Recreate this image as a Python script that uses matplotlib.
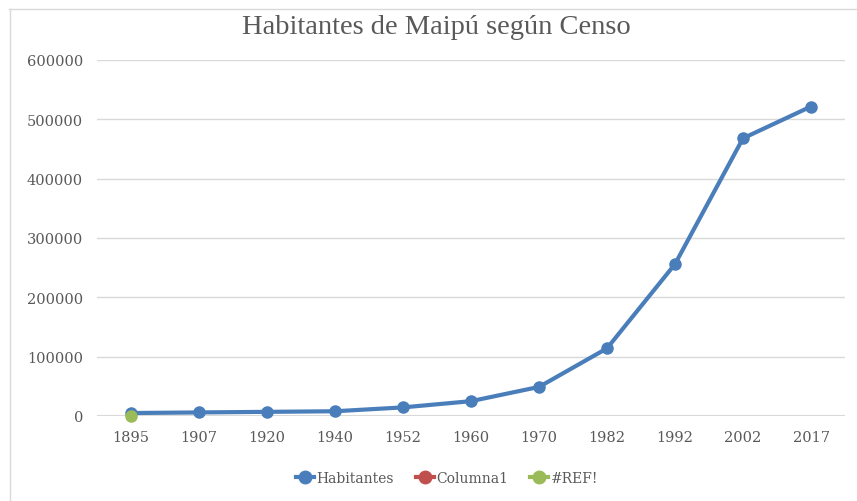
import matplotlib.pyplot as plt
from matplotlib.lines import Line2D

# Census data
years = ["1895", "1907", "1920", "1940", "1952", "1960", "1970", "1982", "1992", "2002", "2017"]
habitantes = [5000, 6000, 7000, 8000, 14500, 25000, 49000, 114000, 256000, 468000, 521600]
ref_values = [0]  # single #REF! point at 1895
y_ticks = [0, 100000, 200000, 300000, 400000, 500000, 600000]

blue = "#4a7ebb"
red = "#c0504d"
green = "#9bbb59"
text_color = "#595959"

plt.rcParams["font.family"] = ["DejaVu Serif"]

fig = plt.figure(figsize=(8.57, 5.02), dpi=100)
ax = fig.add_axes([97 / 857, 1 - 417 / 502, (845 - 97) / 857, (417 - 61) / 502])

x = list(range(len(years)))
ax.plot(x, habitantes, "o-", color=blue, lw=3, markersize=8, zorder=3, clip_on=False)
ax.plot(x[:len(ref_values)], ref_values, "o", color=green, markersize=8, zorder=4, clip_on=False)

ax.set_xlim(-0.5, len(years) - 0.5)
ax.set_ylim(0, 600000)
ax.set_yticks(y_ticks)
ax.set_yticklabels([str(v) for v in y_ticks])
ax.set_xticks(x)
ax.set_xticklabels(years)
ax.grid(axis="y", color="#d9d9d9", lw=1)
ax.axhline(0, color="#d9d9d9", lw=1.5, zorder=1)
ax.set_axisbelow(True)
for s in ax.spines.values():
    s.set_visible(False)
ax.tick_params(length=0, labelsize=10.5, colors=text_color)
ax.tick_params(axis="x", pad=10)
ax.tick_params(axis="y", pad=10)

fig.text(436 / 857, 1 - 27 / 502, "Habitantes de Maipú según Censo", ha="center", va="center",
         fontsize=20.5, color=text_color, family="Liberation Serif")

# chart border (top and left visible)
fig.add_artist(Line2D([9 / 857, 1], [1 - 9.5 / 502, 1 - 9.5 / 502], color="#d9d9d9", lw=1))
fig.add_artist(Line2D([9.5 / 857, 9.5 / 857], [0, 1 - 9.5 / 502], color="#d9d9d9", lw=1))

handles = [
    Line2D([], [], color=blue, marker="o", lw=3, markersize=9),
    Line2D([], [], color=red, marker="o", lw=3, markersize=9),
    Line2D([], [], color=green, marker="o", lw=3, markersize=9),
]
fig.legend(handles, ["Habitantes", "Columna1", "#REF!"], loc="center",
           bbox_to_anchor=(447 / 857, 1 - 479 / 502), ncol=3, frameon=False,
           handlelength=1.3, handletextpad=0.15, columnspacing=1.6,
           fontsize=10, labelcolor=text_color)

plt.savefig("out.png", dpi=100)
